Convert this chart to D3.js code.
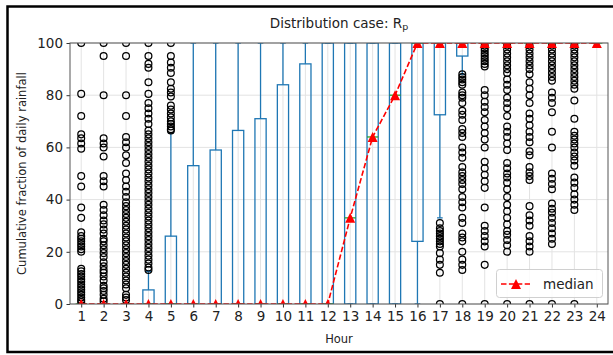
<!DOCTYPE html>
<html>
<head>
<meta charset="utf-8">
<script src="https://cdn.jsdelivr.net/npm/d3@7"></script>
<style>
  body { margin: 0; background: #fff; }
  text { font-family: "DejaVu Sans", sans-serif; }
</style>
</head>
<body>
<div id="chart"></div>
<script>
// hours on the x axis
const hours = [1, 2, 3, 4, 5, 6, 7, 8, 9, 10, 11, 12, 13, 14, 15, 16, 17, 18, 19, 20, 21, 22, 23, 24];
// box statistics per hour (percent)
const q1 = [0, 0, 0, 0, 0, 0, 0, 0, 0, 0, 0, 0, 0, 0, 0, 24, 72.5, 95, 100, 100, 100, 100, 100, 100];
const q3 = [0, 0, 0, 5.4, 26, 53, 59, 66.5, 71, 84, 92, 100, 100, 100, 100, 100, 100, 100, 100, 100, 100, 100, 100, 100];
const whiskerLow = [0, 0, 0, 0, 0, 0, 0, 0, 0, 0, 0, 0, 0, 0, 0, 0, 33, 88, 100, 100, 100, 100, 100, 100];
const whiskerHigh = [0, 0, 0, 12.5, 65.5, 100, 100, 100, 100, 100, 100, 100, 100, 100, 100, 100, 100, 100, 100, 100, 100, 100, 100, 100];
const medians = [0, 0, 0, 0, 0, 0, 0, 0, 0, 0, 0, 0, 33, 64, 80, 100, 100, 100, 100, 100, 100, 100, 100, 100];
const yTicks = [0, 20, 40, 60, 80, 100];

// outliers per hour
const fliers = [
  [100, 80.5, 72, 65, 63.5, 61.5, 59.5, 49, 45, 37, 33, 27.5, 26, 25, 24, 23, 22, 21, 20, 13.5, 12.5, 11.5, 10.5, 9.5, 8.5, 7.5, 6.5, 5.5, 4.5, 3.5, 2.5, 1.5, 0.8],
  [100, 95, 80, 63.5, 61.5, 60, 56.5, 49, 47, 45, 38, 36, 34, 32, 30.5, 28.5, 27, 25, 24, 22.5, 21, 19.5, 18, 16, 14.5, 13, 12, 10.5, 9, 7, 6, 5, 3.5, 2, 1],
  [100, 95, 80, 72, 64, 62, 60, 57, 54, 50, 47.5, 45, 43, 41, 39, 37.5, 36, 34.5, 33, 31.5, 30, 28.5, 27, 25.5, 24, 22.5, 21, 19.5, 18, 16.5, 15, 13.5, 12, 10.5, 9, 7.5, 6, 3.5, 2.5, 1.5],
  [100, 95, 92, 90.5, 85, 80.5, 77, 75, 73, 71, 69, 66.5, 65, 63.5, 62, 60.5, 59, 57.5, 56, 54.5, 53, 51.5, 50, 48.5, 47, 45.5, 44, 42.5, 41, 39.5, 38, 36.5, 35, 33.5, 32, 30.5, 29, 27.5, 26, 24.5, 23, 21.5, 20, 18.5, 17, 15.5, 14, 13],
  [100, 95, 92.5, 90.5, 88.5, 85, 82.5, 81, 79.5, 76, 74.5, 73, 71.5, 70, 69, 68, 67, 66.5],
  [], [], [], [], [], [], [], [], [], [], [],
  [31, 29, 28, 27, 26, 25, 24, 23, 22, 19.5, 17, 15, 12, 0],
  [88, 87, 86, 85, 84, 81, 80, 79, 77, 74, 72.5, 70.5, 67, 65.5, 64, 60, 58, 56, 52.5, 50.5, 49, 47.5, 46, 44, 41, 39, 37, 33, 31, 27, 25.5, 24, 20, 17, 15, 13, 0],
  [99, 98, 97, 96, 95, 94, 93, 92, 91, 82, 80, 77.5, 75.5, 73.5, 70.5, 68, 65.5, 63, 60, 54.5, 52, 49.5, 47, 44.5, 37, 30, 28, 26, 24, 22, 15, 0],
  [99, 97.5, 96, 94.5, 93, 91.5, 90, 88.5, 86, 84, 82, 79, 77, 75, 72, 68, 66, 64, 61.5, 59, 54, 52, 50, 48.5, 46.5, 44, 41, 38, 35.5, 33, 30.5, 28, 26.5, 24.5, 22.5, 20, 0],
  [99, 97.5, 96, 94.5, 93, 91.5, 90, 88, 85, 82.5, 80, 77, 73, 71, 68.5, 66, 64, 62, 58.5, 57, 52.5, 50.5, 49, 47.5, 37.5, 34, 32, 30, 26, 24, 22, 20, 0],
  [99, 97.5, 96, 94.5, 93, 91.5, 90, 88.5, 87, 85.5, 81, 79, 77, 73.5, 66, 60, 50, 48, 46, 44, 38.5, 36.5, 35, 33, 31, 29, 27, 25, 23, 0],
  [99, 97.5, 96, 94.5, 93, 91.5, 90, 88.5, 87, 85.5, 84, 82.5, 78, 71, 66, 64.5, 63, 61.5, 60, 58, 56.5, 55, 53, 48.5, 46.5, 44.5, 42, 40, 38, 36, 0],
  []
];

const width = 613, height = 355;
const plot = { left: 70, right: 608, top: 43, bottom: 304 };
const blue = '#1f77b4', green = '#2ca02c', red = '#ff0000';

const svg = d3.select('#chart').append('svg')
  .attr('width', width)
  .attr('height', height)
  .attr('viewBox', [0, 0, width, height]);

svg.append('rect').attr('width', width).attr('height', height).attr('fill', '#fff');

const x = d3.scaleLinear().domain([0.5, 24.5]).range([plot.left, plot.right]);
const y = d3.scaleLinear().domain([0, 100]).range([plot.bottom, plot.top]);
const boxW = x(1.25) - x(1); // half of box width (0.5 units)

svg.append('defs').append('clipPath').attr('id', 'clip')
  .append('rect')
  .attr('x', plot.left).attr('y', plot.top)
  .attr('width', plot.right - plot.left).attr('height', plot.bottom - plot.top);

// grid
const grid = svg.append('g');
grid.selectAll('line.gx').data(hours).join('line')
  .attr('x1', d => x(d)).attr('x2', d => x(d))
  .attr('y1', plot.top).attr('y2', plot.bottom)
  .attr('stroke', '#e3e3e3').attr('stroke-width', 1);
grid.selectAll('line.gy').data(yTicks).join('line')
  .attr('x1', plot.left).attr('x2', plot.right)
  .attr('y1', d => y(d)).attr('y2', d => y(d))
  .attr('stroke', '#e3e3e3').attr('stroke-width', 1);

const g = svg.append('g').attr('clip-path', 'url(#clip)');

// boxes, whiskers, caps, medians
hours.forEach((h, i) => {
  const cx = x(h);
  g.append('line')
    .attr('x1', cx).attr('x2', cx)
    .attr('y1', y(q1[i])).attr('y2', y(whiskerLow[i]))
    .attr('stroke', blue).attr('stroke-width', 1.3);
  g.append('line')
    .attr('x1', cx).attr('x2', cx)
    .attr('y1', y(q3[i])).attr('y2', y(whiskerHigh[i]))
    .attr('stroke', blue).attr('stroke-width', 1.3);
  [whiskerLow[i], whiskerHigh[i]].forEach(v => {
    g.append('line')
      .attr('x1', cx - boxW / 2).attr('x2', cx + boxW / 2)
      .attr('y1', y(v)).attr('y2', y(v))
      .attr('stroke', blue).attr('stroke-width', 1.3);
  });
  g.append('rect')
    .attr('x', cx - boxW).attr('width', boxW * 2)
    .attr('y', y(q3[i])).attr('height', Math.max(0, y(q1[i]) - y(q3[i])))
    .attr('fill', 'none').attr('stroke', blue).attr('stroke-width', 1.3);
  g.append('line')
    .attr('x1', cx - boxW).attr('x2', cx + boxW)
    .attr('y1', y(medians[i])).attr('y2', y(medians[i]))
    .attr('stroke', green).attr('stroke-width', 1.3);
  g.selectAll(null).data(fliers[i]).join('circle')
    .attr('cx', cx).attr('cy', d => y(d)).attr('r', 3.4)
    .attr('fill', 'none').attr('stroke', '#000').attr('stroke-width', 1.25);
});

// median line
const tri = 'M0,-5L5,5L-5,5Z';
g.append('path')
  .datum(hours.map((h, i) => [h, medians[i]]))
  .attr('d', d3.line().x(d => x(d[0])).y(d => y(d[1])))
  .attr('fill', 'none').attr('stroke', red).attr('stroke-width', 1.6)
  .attr('stroke-dasharray', '5.5,2.4');
g.selectAll('path.tri').data(hours).join('path')
  .attr('class', 'tri')
  .attr('d', tri)
  .attr('transform', (d, i) => `translate(${x(d)},${y(medians[i])})`)
  .attr('fill', red);

// axes
const xAxis = svg.append('g').attr('transform', `translate(0,${plot.bottom})`)
  .call(d3.axisBottom(x).tickValues(hours).tickSize(3.5).tickPadding(3.5).tickFormat(d3.format('d')));
const yAxis = svg.append('g').attr('transform', `translate(${plot.left},0)`)
  .call(d3.axisLeft(y).tickValues(yTicks).tickSize(3.5).tickPadding(3.5));
[xAxis, yAxis].forEach(a => {
  a.select('.domain').remove();
  a.selectAll('.tick line').attr('stroke', '#333');
  a.selectAll('.tick text').attr('font-size', 13.5).attr('fill', '#222')
    .attr('font-family', '"DejaVu Sans", sans-serif');
});

// spines
svg.append('rect')
  .attr('x', plot.left).attr('y', plot.top)
  .attr('width', plot.right - plot.left).attr('height', plot.bottom - plot.top)
  .attr('fill', 'none').attr('stroke', '#555').attr('stroke-width', 1);

// titles
const title = svg.append('text')
  .attr('x', (plot.left + plot.right) / 2).attr('y', 28)
  .attr('text-anchor', 'middle').attr('font-size', 13.5).attr('fill', '#222');
title.append('tspan').text('Distribution case: R');
title.append('tspan').text('p').attr('font-size', 9.5).attr('dy', 2);

svg.append('text')
  .attr('x', (plot.left + plot.right) / 2).attr('y', 343)
  .attr('text-anchor', 'middle').attr('font-size', 11.5).attr('fill', '#222')
  .text('Hour');

svg.append('text')
  .attr('transform', `translate(26,${(plot.top + plot.bottom) / 2}) rotate(-90)`)
  .attr('text-anchor', 'middle').attr('font-size', 11.5).attr('fill', '#222')
  .text('Cumulative fraction of daily rainfall');

// legend
const lg = svg.append('g');
lg.append('rect')
  .attr('x', 496.5).attr('y', 269.5).attr('width', 106).attr('height', 28).attr('rx', 3)
  .attr('fill', '#fff').attr('fill-opacity', 0.85).attr('stroke', '#d0d0d0');
lg.append('line')
  .attr('x1', 501).attr('x2', 530).attr('y1', 284).attr('y2', 284)
  .attr('stroke', red).attr('stroke-width', 1.6).attr('stroke-dasharray', '5.5,2.4');
lg.append('path').attr('d', tri).attr('transform', 'translate(516,284)').attr('fill', red);
lg.append('text')
  .attr('x', 543).attr('y', 289).attr('font-size', 13.5).attr('fill', '#222')
  .text('median');

// outer frame
svg.append('rect')
  .attr('x', 7.5).attr('y', 6.5).attr('width', 640).attr('height', 345.5)
  .attr('fill', 'none').attr('stroke', '#000').attr('stroke-width', 2.5);
</script>
</body>
</html>
